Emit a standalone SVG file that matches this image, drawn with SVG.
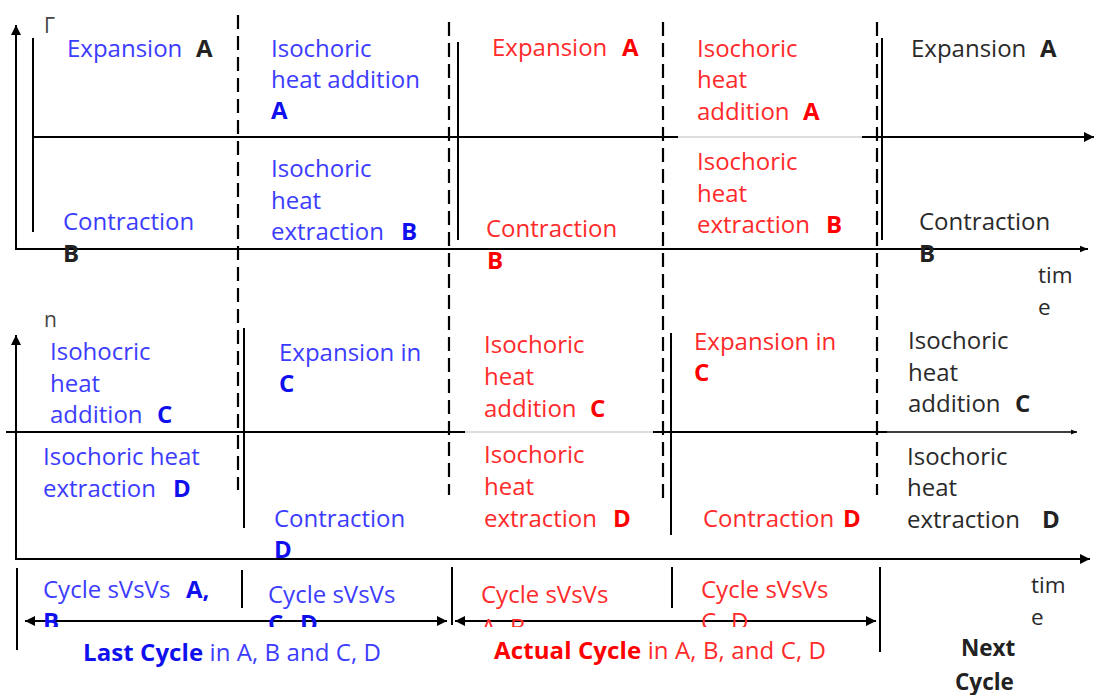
<svg xmlns="http://www.w3.org/2000/svg" width="1094" height="695" viewBox="0 0 1094 695">
<style>
.t{font-family:"Open Sans","Noto Sans",sans-serif;font-size:24px}
.s{font-family:"Open Sans","Noto Sans",sans-serif;font-size:21px}
.m{font-family:"Open Sans","Noto Sans",sans-serif;font-size:22.5px}
.blue{fill:#3c3cff}
.bb{fill:#1010ee;font-weight:700}
.red{fill:#ff2a2a}
.br{fill:#ff0000;font-weight:700}
.blk{fill:#2a2a2a}
.bk{fill:#222;font-weight:700}
.gray{fill:#444}
.ln{stroke:#000;stroke-width:2;fill:none}
.thin{stroke:#000;stroke-width:1.5;fill:none}
.faint{stroke:#bbb;stroke-width:1;fill:none}
.dash{stroke:#000;stroke-width:2.2;fill:none;stroke-dasharray:14 7}
</style>
<defs>
<marker id="ah" viewBox="0 0 10 10" refX="10" refY="5" markerWidth="6" markerHeight="5" orient="auto-start-reverse" markerUnits="strokeWidth"><path d="M0,0 L10,5 L0,10 z" fill="#000"/></marker>
<marker id="ahL" viewBox="0 0 10 10" refX="10" refY="5" markerWidth="7.5" markerHeight="5" orient="auto" markerUnits="strokeWidth"><path d="M0,0 L10,5 L0,10 z" fill="#000"/></marker>
<marker id="ahT" viewBox="0 0 10 10" refX="10" refY="5" markerWidth="10" markerHeight="4" orient="auto" markerUnits="strokeWidth"><path d="M0,1 L10,5 L0,9 z" fill="#000"/></marker>
<clipPath id="cut"><rect x="0" y="600" width="1094" height="27"/></clipPath>
</defs>

<g id="connectors">
  <line class="ln" x1="16" y1="250" x2="16" y2="25" marker-end="url(#ahL)"/>
  <line class="ln" x1="16" y1="249" x2="1088" y2="249" marker-end="url(#ahT)"/>
  <line class="ln" x1="33" y1="38" x2="33" y2="232"/>
  <line class="ln" x1="33" y1="137" x2="678" y2="137"/>
  <line class="faint" x1="678" y1="137" x2="862" y2="137"/>
  <line class="ln" x1="862" y1="137" x2="1094" y2="137" marker-end="url(#ah)"/>
  <line class="ln" x1="458" y1="42" x2="458" y2="240"/>
  <line class="ln" x1="882" y1="38" x2="882" y2="240"/>
  <line class="dash" x1="238" y1="15" x2="238" y2="490"/>
  <line class="dash" x1="449" y1="22" x2="449" y2="495"/>
  <line class="dash" x1="663" y1="22" x2="663" y2="500"/>
  <line class="dash" x1="877" y1="22" x2="877" y2="495"/>
  <line class="ln" x1="16" y1="560" x2="16" y2="335" marker-end="url(#ahL)"/>
  <line class="ln" x1="6" y1="432" x2="465" y2="432"/>
  <line class="faint" x1="465" y1="432" x2="653" y2="432"/>
  <line class="ln" x1="653" y1="432" x2="887" y2="432"/>
  <line class="thin" x1="887" y1="432" x2="1077" y2="432" marker-end="url(#ahT)"/>
  <line class="ln" x1="16" y1="559" x2="1090" y2="559" marker-end="url(#ah)"/>
  <line class="ln" x1="244" y1="328" x2="244" y2="528"/>
  <line class="ln" x1="671" y1="333" x2="671" y2="535"/>
  <line class="ln" x1="17" y1="568" x2="17" y2="650"/>
  <line class="ln" x1="242" y1="570" x2="242" y2="608"/>
  <line class="ln" x1="452" y1="567" x2="452" y2="625"/>
  <line class="ln" x1="672" y1="567" x2="672" y2="608"/>
  <line class="ln" x1="880" y1="567" x2="880" y2="652"/>
  <line class="ln" x1="25" y1="621" x2="447" y2="621" marker-start="url(#ah)" marker-end="url(#ah)"/>
  <line class="ln" x1="455" y1="621" x2="876" y2="621" marker-start="url(#ah)" marker-end="url(#ah)"/>
</g>

<g id="axis-labels">
  <text class="s gray" x="44" y="33">Γ</text>
  <text class="s gray" x="44" y="327">n</text>
  <text class="m blk" x="1038" y="283">tim</text>
  <text class="m blk" x="1038" y="315">e</text>
  <text class="m blk" x="1031" y="593">tim</text>
  <text class="m blk" x="1031" y="625">e</text>
</g>

<g id="n-expA-last"><text class="t blue" x="67" y="57">Expansion<tspan class="bk" x="196">A</tspan></text></g>
<g id="n-isoA-last">
  <text class="t blue" x="271" y="57">Isochoric</text>
  <text class="t blue" x="271" y="88">heat addition</text>
  <text class="t bb" x="271" y="119">A</text>
</g>
<g id="n-conB-last">
  <text class="t blue" x="63" y="230">Contraction</text>
  <text class="t bk" x="63" y="262">B</text>
</g>
<g id="n-isoB-last">
  <text class="t blue" x="271" y="177">Isochoric</text>
  <text class="t blue" x="271" y="209">heat</text>
  <text class="t blue" x="271" y="240">extraction<tspan class="bb" x="401">B</tspan></text>
</g>
<g id="n-expA-act"><text class="t red" x="492" y="56">Expansion<tspan class="br" x="622">A</tspan></text></g>
<g id="n-conB-act">
  <text class="t red" x="486" y="237">Contraction</text>
  <text class="t br" x="487" y="269">B</text>
</g>
<g id="n-isoA-act">
  <text class="t red" x="697" y="57">Isochoric</text>
  <text class="t red" x="697" y="88">heat</text>
  <text class="t red" x="697" y="120">addition<tspan class="br" x="803">A</tspan></text>
</g>
<g id="n-isoB-act">
  <text class="t red" x="697" y="170">Isochoric</text>
  <text class="t red" x="697" y="202">heat</text>
  <text class="t red" x="697" y="233">extraction<tspan class="br" x="826">B</tspan></text>
</g>
<g id="n-expA-next"><text class="t blk" x="911" y="57">Expansion<tspan class="bk" x="1040">A</tspan></text></g>
<g id="n-conB-next">
  <text class="t blk" x="919" y="230">Contraction</text>
  <text class="t bk" x="919" y="262">B</text>
</g>

<g id="n-isoC-last">
  <text class="t blue" x="50" y="360">Isohocric</text>
  <text class="t blue" x="50" y="392">heat</text>
  <text class="t blue" x="50" y="423">addition<tspan class="bb" x="157">C</tspan></text>
</g>
<g id="n-isoD-last">
  <text class="t blue" x="43" y="465">Isochoric heat</text>
  <text class="t blue" x="43" y="497">extraction<tspan class="bb" x="173">D</tspan></text>
</g>
<g id="n-expC-last">
  <text class="t blue" x="279" y="361">Expansion in</text>
  <text class="t bb" x="279" y="392">C</text>
</g>
<g id="n-conD-last">
  <text class="t blue" x="274" y="527">Contraction</text>
  <text class="t bb" x="274" y="558">D</text>
</g>
<g id="n-isoC-act">
  <text class="t red" x="484" y="353">Isochoric</text>
  <text class="t red" x="484" y="385">heat</text>
  <text class="t red" x="484" y="417">addition<tspan class="br" x="590">C</tspan></text>
</g>
<g id="n-isoD-act">
  <text class="t red" x="484" y="463">Isochoric</text>
  <text class="t red" x="484" y="495">heat</text>
  <text class="t red" x="484" y="527">extraction<tspan class="br" x="613">D</tspan></text>
</g>
<g id="n-expC-act">
  <text class="t red" x="694" y="350">Expansion in</text>
  <text class="t br" x="694" y="381">C</text>
</g>
<g id="n-conD-act"><text class="t red" x="703" y="527">Contraction<tspan class="br" x="843">D</tspan></text></g>
<g id="n-isoC-next">
  <text class="t blk" x="908" y="349">Isochoric</text>
  <text class="t blk" x="908" y="381">heat</text>
  <text class="t blk" x="908" y="412">addition<tspan class="bk" x="1015">C</tspan></text>
</g>
<g id="n-isoD-next">
  <text class="t blk" x="907" y="465">Isochoric</text>
  <text class="t blk" x="907" y="496">heat</text>
  <text class="t blk" x="907" y="528">extraction<tspan class="bk" x="1042">D</tspan></text>
</g>

<g id="n-cycAB-last">
  <text class="t blue" x="43" y="598">Cycle sVsVs<tspan class="bb" x="186">A,</tspan></text>
  <text class="t bb" x="43" y="630" clip-path="url(#cut)">B</text>
</g>
<g id="n-cycCD-last">
  <text class="t blue" x="268" y="603">Cycle sVsVs</text>
  <text class="t bb" x="268" y="632" clip-path="url(#cut)">C<tspan x="300">D</tspan></text>
</g>
<g id="n-cycAB-act">
  <text class="t red" x="481" y="603">Cycle sVsVs</text>
  <text class="t red" x="481" y="636" clip-path="url(#cut)">A<tspan x="510">B</tspan></text>
</g>
<g id="n-cycCD-act">
  <text class="t red" x="701" y="598">Cycle sVsVs</text>
  <text class="t red" x="701" y="630" clip-path="url(#cut)">C<tspan x="731">D</tspan></text>
</g>
<g id="n-last"><text class="t blue" x="83" y="661" textLength="298"><tspan class="bb">Last Cycle</tspan> in A, B and C, D</text></g>
<g id="n-actual"><text class="t red" x="494" y="659" textLength="332"><tspan class="br">Actual Cycle</tspan> in A, B, and C, D</text></g>
<g id="n-next">
  <text class="m bk" x="961" y="656">Next</text>
  <text class="m bk" x="955" y="690">Cycle</text>
</g>
</svg>
